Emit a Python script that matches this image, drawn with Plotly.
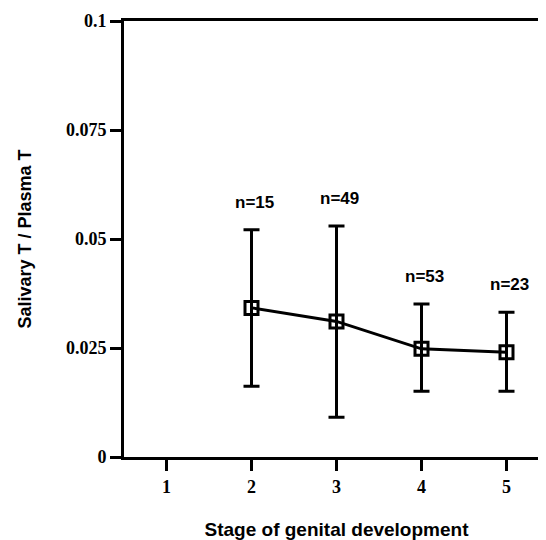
import plotly.graph_objects as go

stages = [2, 3, 4, 5]
ratio_mean = [0.0342, 0.0311, 0.0248, 0.0240]
err_upper = [0.0521, 0.0530, 0.0351, 0.0332]
err_lower = [0.0162, 0.0091, 0.0151, 0.0151]
n_labels = ["n=15", "n=49", "n=53", "n=23"]

x_ticks = [1, 2, 3, 4, 5]
y_ticks = [0, 0.025, 0.05, 0.075, 0.1]
y_ticktext = ["0", "0.025", "0.05", "0.075", "0.1"]

plus = [u - m for u, m in zip(err_upper, ratio_mean)]
minus = [m - l for m, l in zip(ratio_mean, err_lower)]

fig = go.Figure()
fig.add_trace(go.Scatter(
    x=stages, y=ratio_mean, mode="lines+markers",
    line=dict(color="black", width=3),
    marker=dict(symbol="square-open", size=13, color="black", line=dict(width=3, color="black")),
    error_y=dict(type="data", symmetric=False, array=plus, arrayminus=minus,
                 color="black", thickness=3, width=8),
    showlegend=False,
))

for x, u, t in zip(stages, err_upper, n_labels):
    fig.add_annotation(x=x, y=u, text="<b>%s</b>" % t, showarrow=False, yanchor="bottom",
                       yshift=16, xshift=3,
                       font=dict(family="Liberation Sans", size=17, color="black"))

fig.update_layout(
    width=546, height=540,
    margin=dict(l=116, r=2, t=13, b=91),
    paper_bgcolor="white", plot_bgcolor="white",
    font=dict(color="black"),
)
fig.update_xaxes(
    range=[0.5, 5.5], tickvals=x_ticks, ticktext=["<b>%d</b>" % v for v in x_ticks],
    showgrid=False, zeroline=False, showline=True, linecolor="black", linewidth=3,
    mirror=True, ticks="outside", ticklen=11, tickwidth=3, tickcolor="black",
    tickfont=dict(family="Liberation Serif", size=18, color="black"),
    title=dict(text="<b>Stage of genital development</b>", standoff=28,
               font=dict(family="Liberation Sans", size=19, color="black")),
)
fig.update_yaxes(
    range=[0, 0.1], tickvals=y_ticks, ticktext=["<b>%s</b>" % t for t in y_ticktext],
    showgrid=False, zeroline=False, showline=True, linecolor="black", linewidth=3,
    mirror=True, ticks="outside", ticklen=11, tickwidth=3, tickcolor="black",
    tickfont=dict(family="Liberation Serif", size=18, color="black"),
    title=dict(text="<b>Salivary T / Plasma T</b>", standoff=30,
               font=dict(family="Liberation Sans", size=18, color="black")),
)

fig.write_html("out.html")
